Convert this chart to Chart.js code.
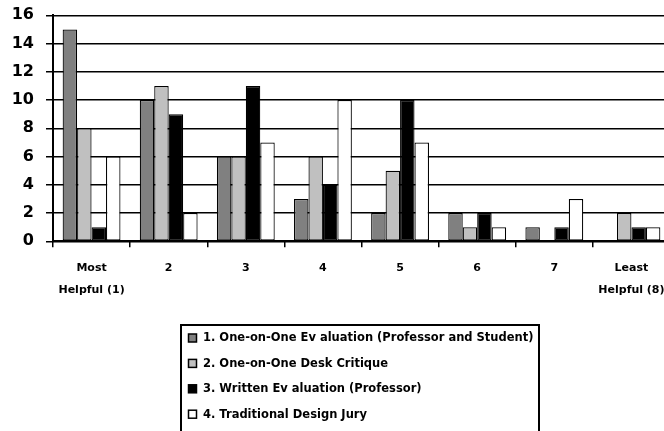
<!DOCTYPE html>
<html>
<head>
<meta charset="utf-8">
<script src="https://cdn.jsdelivr.net/npm/chart.js@4/dist/chart.umd.min.js"></script>
<style>
  html, body { margin: 0; padding: 0; background: #ffffff; overflow: hidden; }
  #wrap { width: 670px; height: 431px; }
</style>
</head>
<body>
<div id="wrap"><canvas id="c" width="670" height="431"></canvas></div>
<script>
// Ranking of feedback methods, from most helpful (1) to least helpful (8)
const categories = [["Most", "Helpful (1)"], "2", "3", "4", "5", "6", "7", ["Least", "Helpful (8)"]];

const seriesNames = [
  "1. One-on-One Ev aluation (Professor and Student)",
  "2. One-on-One Desk Critique",
  "3. Written Ev aluation (Professor)",
  "4. Traditional Design Jury"
];

const oneOnOneEvaluation = [15, 10, 6, 3, 2, 2, 1, 0];
const deskCritique       = [8, 11, 6, 6, 5, 1, 0, 2];
const writtenEvaluation  = [1, 9, 11, 4, 10, 2, 1, 1];
const designJury         = [6, 2, 7, 10, 7, 1, 3, 1];

const yMin = 0;
const yMax = 16;
const yStep = 2;

const seriesColors = ["#808080", "#c0c0c0", "#000000", "#ffffff"];
const seriesValues = [oneOnOneEvaluation, deskCritique, writtenEvaluation, designJury];

const FONT = "'DejaVu Sans', 'Liberation Sans', Arial, sans-serif";

// Boxed, single-column legend underneath the plot
const boxedLegend = {
  id: "boxedLegend",
  afterDraw(chart) {
    const ctx = chart.ctx;
    ctx.save();
    ctx.strokeStyle = "#000000";
    ctx.lineWidth = 2;
    ctx.strokeRect(181, 325, 358, 112);
    ctx.font = "bold 11.5px " + FONT;
    ctx.textBaseline = "middle";
    ctx.textAlign = "left";
    chart.data.datasets.forEach((ds, i) => {
      const cy = 338.5 + i * 25.4;
      ctx.fillStyle = ds.backgroundColor;
      ctx.fillRect(188.5, cy - 4.5, 8, 8);
      ctx.lineWidth = 1.5;
      ctx.strokeStyle = "#000000";
      ctx.strokeRect(188.5, cy - 4.5, 8, 8);
      ctx.fillStyle = "#000000";
      ctx.fillText(ds.label, 203, cy);
    });
    ctx.restore();
  }
};

new Chart(document.getElementById("c"), {
  type: "bar",
  data: {
    labels: categories,
    datasets: seriesValues.map((vals, i) => ({
      label: seriesNames[i],
      data: vals,
      backgroundColor: seriesColors[i],
      borderColor: "#000000",
      borderWidth: 1.2,
      borderSkipped: false,
      barPercentage: 1,
      categoryPercentage: 0.75
    }))
  },
  options: {
    responsive: false,
    animation: false,
    events: [],
    layout: { padding: { top: 15.3, left: 0, right: 0, bottom: 0 } },
    plugins: {
      legend: { display: false },
      tooltip: { enabled: false },
      title: { display: false }
    },
    scales: {
      x: {
        offset: true,
        grid: {
          offset: true,
          drawOnChartArea: false,
          drawTicks: true,
          tickLength: 6,
          color: "#000000",
          lineWidth: 1.5
        },
        border: { display: true, color: "#000000", width: 2 },
        ticks: {
          color: "#000000",
          padding: 10,
          maxRotation: 0,
          autoSkip: false,
          font: { family: FONT, size: 11, weight: "bold", lineHeight: 2.0 }
        },
        afterFit(scale) {
          scale.height = 431 - 241.3;
          scale.paddingLeft = 0;
          scale.paddingRight = 0;
        }
      },
      y: {
        min: yMin,
        max: yMax,
        grid: {
          color: "#000000",
          lineWidth: 1.5,
          drawTicks: true,
          tickLength: 7
        },
        border: { display: true, color: "#000000", width: 2 },
        ticks: {
          stepSize: yStep,
          color: "#000000",
          padding: 12,
          font: { family: FONT, size: 16, weight: "bold" }
        },
        afterFit(scale) {
          scale.width = 53;
          scale.paddingTop = 0;
          scale.paddingBottom = 0;
        }
      }
    }
  },
  plugins: [boxedLegend]
});
</script>
</body>
</html>
